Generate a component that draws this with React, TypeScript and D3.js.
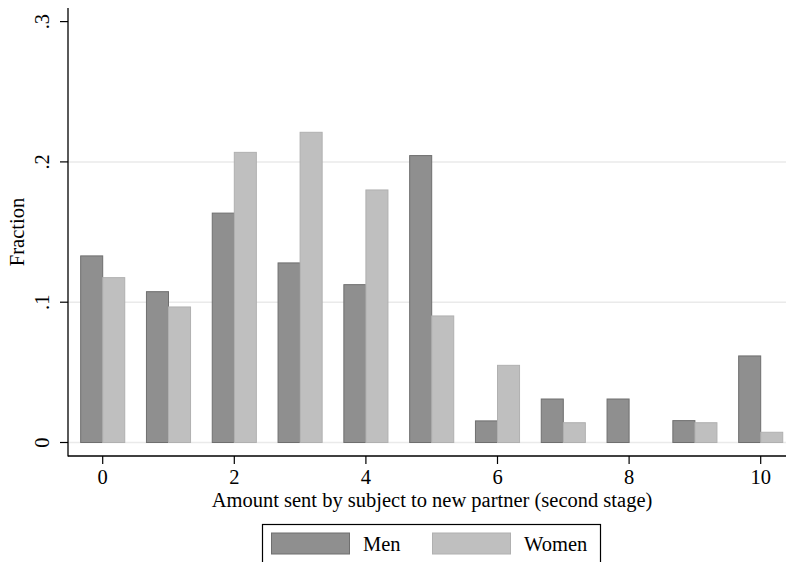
import React from "react";
import * as d3 from "d3";

const amounts = [0, 1, 2, 3, 4, 5, 6, 7, 8, 9, 10];
const men = [0.133, 0.1075, 0.1635, 0.128, 0.1125, 0.2045, 0.0154, 0.031, 0.031, 0.0156, 0.0617];
const women = [0.1175, 0.0966, 0.2068, 0.2211, 0.18, 0.0902, 0.055, 0.0141, 0, 0.0141, 0.0073];
const xTicks = [0, 2, 4, 6, 8, 10];
const yTicks = [0, 0.1, 0.2, 0.3];
const yTickLabels = ["0", ".1", ".2", ".3"];
const seriesNames = ["Men", "Women"];

const W = 788;
const H = 562;
const font = "'Liberation Serif', 'Times New Roman', Times, serif";

export default function App() {
  const x = d3.scaleLinear().domain([0, 10]).range([102.7, 760.7]);
  const y = d3.scaleLinear().domain([0, 0.1]).range([442.5, 302.2]);
  const bw = (x(1) - x(0)) * 0.335;
  const axisLeft = 68;
  const axisRight = 786;
  const axisBottom = 456;
  const axisTop = 8;
  const menFill = "#8f8f8f";
  const menStroke = "#6f6f6f";
  const wFill = "#bfbfbf";
  const wStroke = "#b0b0b0";
  const fs = 20.5;

  return (
    <svg width={W} height={H} style={{ position: "absolute", left: 0, top: 0, background: "#fff" }}>
      <rect x={0} y={0} width={W} height={H} fill="#fff" />
      {yTicks.slice(0, 3).map((t) => (
        <line key={"g" + t} x1={axisLeft} x2={axisRight} y1={y(t)} y2={y(t)} stroke="#eaeaea" strokeWidth={1.5} />
      ))}
      {amounts.map((a, i) => (
        <g key={"b" + a}>
          {men[i] > 0 && (
            <rect x={x(a) - bw} y={y(men[i])} width={bw} height={y(0) - y(men[i])} fill={menFill} stroke={menStroke} strokeWidth={1} />
          )}
          {women[i] > 0 && (
            <rect x={x(a)} y={y(women[i])} width={bw} height={y(0) - y(women[i])} fill={wFill} stroke={wStroke} strokeWidth={1} />
          )}
        </g>
      ))}
      <line x1={axisLeft} x2={axisLeft} y1={axisTop} y2={axisBottom + 0.5} stroke="#000" strokeWidth={1.3} />
      <line x1={axisLeft} x2={axisRight} y1={axisBottom} y2={axisBottom} stroke="#000" strokeWidth={1.3} />
      {yTicks.map((t, i) => (
        <g key={"yt" + t}>
          <line x1={axisLeft - 8} x2={axisLeft} y1={y(t)} y2={y(t)} stroke="#000" strokeWidth={1.2} />
          <text
            transform={`translate(${49},${y(t)}) rotate(-90)`}
            textAnchor="middle"
            fontFamily={font}
            fontSize={fs}
            fill="#000"
          >
            {yTickLabels[i]}
          </text>
        </g>
      ))}
      {xTicks.map((t) => (
        <g key={"xt" + t}>
          <line x1={x(t)} x2={x(t)} y1={axisBottom} y2={axisBottom + 8} stroke="#000" strokeWidth={1.2} />
          <text x={x(t)} y={484} textAnchor="middle" fontFamily={font} fontSize={fs} fill="#000">
            {t}
          </text>
        </g>
      ))}
      <text x={432} y={507} textAnchor="middle" fontFamily={font} fontSize={fs} fill="#000">
        Amount sent by subject to new partner (second stage)
      </text>
      <text transform={`translate(${24},${232}) rotate(-90)`} textAnchor="middle" fontFamily={font} fontSize={fs} fill="#000">
        Fraction
      </text>
      <rect x={262.5} y={524.5} width={338} height={50} fill="#fff" stroke="#000" strokeWidth={1.2} />
      <rect x={271.5} y={533} width={78} height={21} fill={menFill} stroke={menStroke} strokeWidth={1} />
      <text x={363} y={551} fontFamily={font} fontSize={fs} fill="#000">{seriesNames[0]}</text>
      <rect x={432.5} y={533} width={78} height={21} fill={wFill} stroke={wStroke} strokeWidth={1} />
      <text x={524} y={551} fontFamily={font} fontSize={fs} fill="#000">{seriesNames[1]}</text>
    </svg>
  );
}
